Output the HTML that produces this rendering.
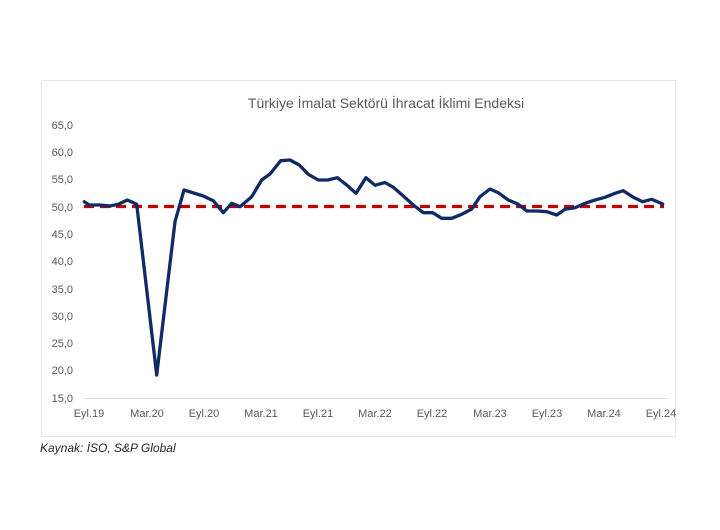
<!DOCTYPE html>
<html><head><meta charset="utf-8"><style>
body{margin:0;background:#fff;}
svg{display:block;font-family:"Liberation Sans",sans-serif;}
</style></head><body>
<svg width="720" height="530" viewBox="0 0 720 530">
<rect x="0" y="0" width="720" height="530" fill="#fff"/>
<rect x="41.5" y="80.5" width="634" height="356" fill="#fff" stroke="#e3e6ea" stroke-width="1"/>
<text x="386" y="108" text-anchor="middle" font-size="14" fill="#595959">Türkiye İmalat Sektörü İhracat İklimi Endeksi</text>
<g font-size="11" fill="#595959" text-anchor="end">
<text x="73" y="129">65,0</text>
<text x="73" y="156">60,0</text>
<text x="73" y="183">55,0</text>
<text x="73" y="211">50,0</text>
<text x="73" y="238">45,0</text>
<text x="73" y="265">40,0</text>
<text x="73" y="293">35,0</text>
<text x="73" y="320">30,0</text>
<text x="73" y="347">25,0</text>
<text x="73" y="374">20,0</text>
<text x="73" y="402">15,0</text>
</g>
<line x1="84" y1="398.5" x2="667" y2="398.5" stroke="#d9d9d9" stroke-width="1"/>
<g font-size="11" fill="#595959" text-anchor="middle">
<text x="89" y="417">Eyl.19</text>
<text x="147" y="417">Mar.20</text>
<text x="204" y="417">Eyl.20</text>
<text x="261" y="417">Mar.21</text>
<text x="318" y="417">Eyl.21</text>
<text x="375" y="417">Mar.22</text>
<text x="432" y="417">Eyl.22</text>
<text x="490" y="417">Mar.23</text>
<text x="547" y="417">Eyl.23</text>
<text x="604" y="417">Mar.24</text>
<text x="661" y="417">Eyl.24</text>
</g>
<line x1="84" y1="206.5" x2="664" y2="206.5" stroke="#c00000" stroke-width="3.3" stroke-dasharray="10,6"/>
<polyline fill="none" stroke="#0f2a66" stroke-width="3.3" stroke-linejoin="round" stroke-linecap="round" points="84.3,201.7 89.3,205 100,205 110,206 118.3,204.3 127.3,200 136.7,204.3 156.7,375 175,221.7 184,190 203.3,196 213.3,200.7 223.3,212.7 231.7,203.3 240,206.7 251.7,196.7 261.7,180 270,174 280.7,160.7 290,160 299.3,165 308.3,174.3 318.3,180 327.7,180 337.3,177.7 346.7,185 356,193.3 366,177.7 375,185.3 385,182.5 393.3,187.3 403.3,196 413.3,205 423.3,212.7 432.7,212.7 441.7,218.3 451.7,218.3 461.7,214.3 471.7,209 480,196.7 490,189 498.3,192.7 508.3,200 518.3,204.3 526.7,211 536.7,211 546.7,211.7 556.7,215 565,209.3 575,207.7 585,203.3 595,200 605,197.3 615,193.3 623.3,190.7 633.3,197.3 642.7,201.7 651.7,199.3 662.7,204"/>
<text x="40" y="452" font-size="12" font-style="italic" fill="#262626">Kaynak: İSO, S&amp;P Global</text>
</svg>
</body></html>
